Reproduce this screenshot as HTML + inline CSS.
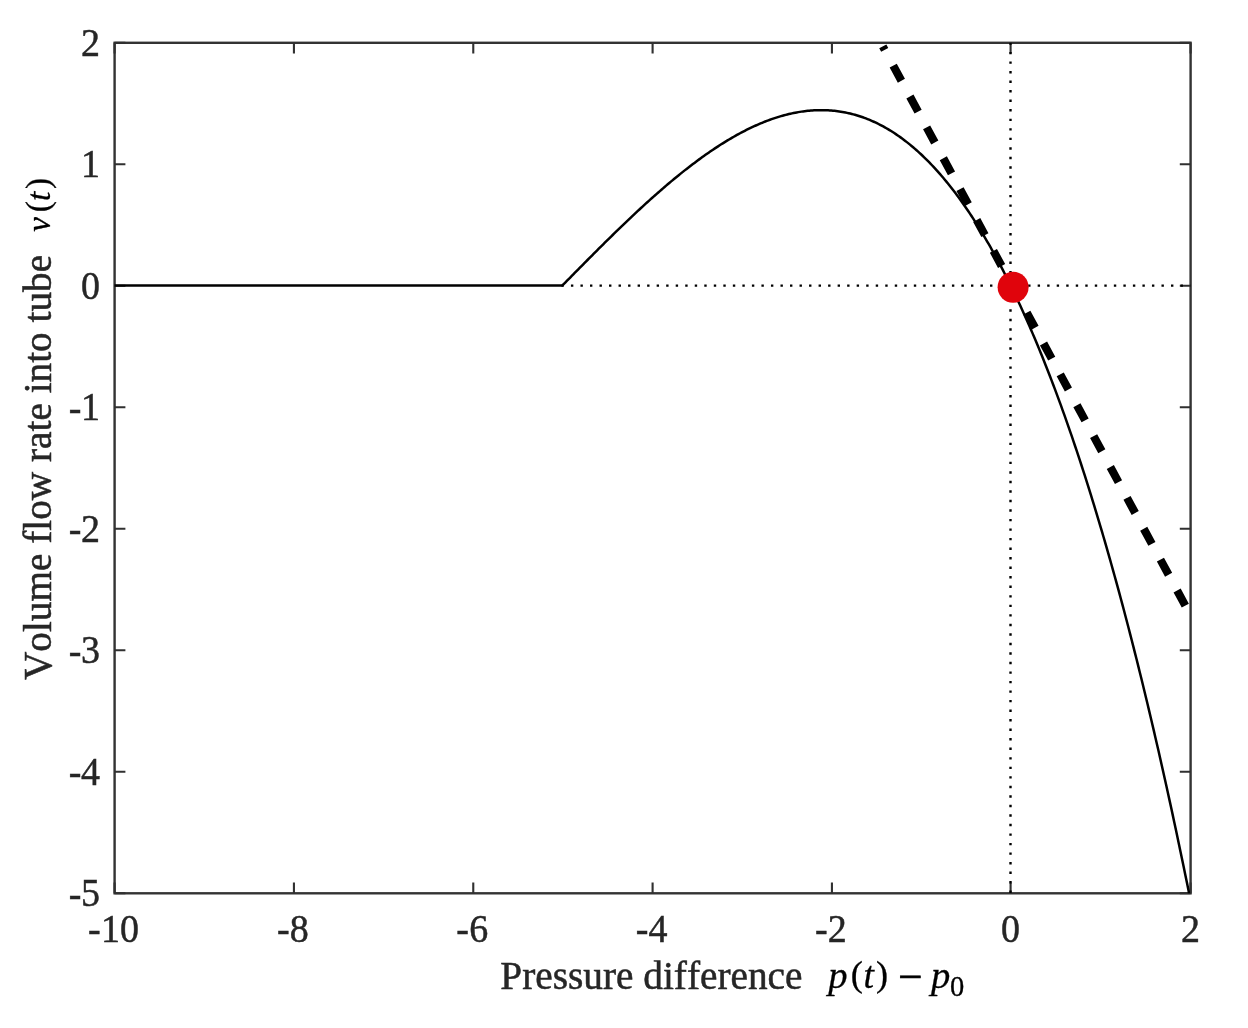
<!DOCTYPE html>
<html lang="en"><head><meta charset="utf-8"><title>Volume flow rate vs pressure difference</title>
<style>html,body{margin:0;padding:0;background:#fff}body{width:1248px;height:1028px;overflow:hidden}svg{display:block}</style></head>
<body>
<svg width="1248" height="1028" viewBox="0 0 1248 1028">
<rect width="1248" height="1028" fill="#fff"/>
<defs><filter id="soft" x="0" y="0" width="100%" height="100%" filterUnits="userSpaceOnUse" color-interpolation-filters="sRGB"><feGaussianBlur stdDeviation="0.4"/></filter><clipPath id="c"><rect x="114.60" y="42.80" width="1076.00" height="850.50"/></clipPath></defs>
<g filter="url(#soft)">
<rect x="114.60" y="42.80" width="1076.00" height="850.50" fill="none" stroke="#333333" stroke-width="2.4"/>
<path d="M114.60 893.30 v-10.80 M114.60 42.80 v10.80 M293.93 893.30 v-10.80 M293.93 42.80 v10.80 M473.27 893.30 v-10.80 M473.27 42.80 v10.80 M652.60 893.30 v-10.80 M652.60 42.80 v10.80 M831.93 893.30 v-10.80 M831.93 42.80 v10.80 M1010.60 893.30 v-10.80 M1010.60 42.80 v10.80 M1190.60 893.30 v-10.80 M1190.60 42.80 v10.80 M114.60 893.30 h10.80 M1190.60 893.30 h-10.80 M114.60 771.80 h10.80 M1190.60 771.80 h-10.80 M114.60 650.30 h10.80 M1190.60 650.30 h-10.80 M114.60 528.80 h10.80 M1190.60 528.80 h-10.80 M114.60 407.30 h10.80 M1190.60 407.30 h-10.80 M114.60 285.80 h10.80 M1190.60 285.80 h-10.80 M114.60 164.30 h10.80 M1190.60 164.30 h-10.80 M114.60 42.80 h10.80 M1190.60 42.80 h-10.80" stroke="#303030" stroke-width="2.1" fill="none"/>
<g clip-path="url(#c)">
<line x1="561.40" y1="285.60" x2="1190.60" y2="285.60" stroke="#000" stroke-width="2.4" stroke-dasharray="2.4 7.125"/>
<line x1="1010.50" y1="42.40" x2="1010.50" y2="893.30" stroke="#000" stroke-width="2.4" stroke-dasharray="2.4 7.13"/>
</g>
<g clip-path="url(#c)"><path d="M114.00 285.50 L562.33 285.50 L563.91 283.90 L565.48 282.30 L567.05 280.70 L568.63 279.11 L570.20 277.51 L571.77 275.91 L573.35 274.32 L574.92 272.72 L576.49 271.13 L578.06 269.53 L579.64 267.94 L581.21 266.35 L582.78 264.76 L584.36 263.17 L585.93 261.59 L587.50 260.00 L589.08 258.42 L590.65 256.84 L592.22 255.26 L593.80 253.68 L595.37 252.11 L596.94 250.54 L598.51 248.97 L600.09 247.40 L601.66 245.84 L603.23 244.28 L604.81 242.72 L606.38 241.17 L607.95 239.62 L609.53 238.07 L611.10 236.53 L612.67 234.99 L614.25 233.45 L615.82 231.92 L617.39 230.39 L618.96 228.87 L620.54 227.35 L622.11 225.83 L623.68 224.32 L625.26 222.81 L626.83 221.31 L628.40 219.81 L629.98 218.32 L631.55 216.83 L633.12 215.35 L634.70 213.88 L636.27 212.41 L637.84 210.94 L639.42 209.48 L640.99 208.03 L642.56 206.58 L644.13 205.14 L645.71 203.70 L647.28 202.27 L648.85 200.85 L650.43 199.43 L652.00 198.02 L653.57 196.62 L655.15 195.22 L656.72 193.83 L658.29 192.45 L659.87 191.07 L661.44 189.70 L663.01 188.34 L664.58 186.99 L666.16 185.65 L667.73 184.31 L669.30 182.98 L670.88 181.66 L672.45 180.34 L674.02 179.04 L675.60 177.74 L677.17 176.45 L678.74 175.17 L680.32 173.90 L681.89 172.64 L683.46 171.39 L685.04 170.14 L686.61 168.91 L688.18 167.68 L689.75 166.47 L691.33 165.26 L692.90 164.06 L694.47 162.88 L696.05 161.70 L697.62 160.53 L699.19 159.38 L700.77 158.23 L702.34 157.09 L703.91 155.97 L705.49 154.85 L707.06 153.75 L708.63 152.65 L710.20 151.57 L711.78 150.50 L713.35 149.44 L714.92 148.39 L716.50 147.35 L718.07 146.33 L719.64 145.31 L721.22 144.31 L722.79 143.32 L724.36 142.34 L725.94 141.38 L727.51 140.42 L729.08 139.48 L730.65 138.55 L732.23 137.64 L733.80 136.73 L735.37 135.84 L736.95 134.96 L738.52 134.10 L740.09 133.25 L741.67 132.41 L743.24 131.59 L744.81 130.77 L746.39 129.98 L747.96 129.19 L749.53 128.42 L751.11 127.67 L752.68 126.93 L754.25 126.20 L755.82 125.49 L757.40 124.79 L758.97 124.11 L760.54 123.44 L762.12 122.78 L763.69 122.14 L765.26 121.52 L766.84 120.91 L768.41 120.32 L769.98 119.74 L771.56 119.18 L773.13 118.63 L774.70 118.10 L776.27 117.59 L777.85 117.09 L779.42 116.61 L780.99 116.14 L782.57 115.69 L784.14 115.26 L785.71 114.84 L787.29 114.44 L788.86 114.06 L790.43 113.69 L792.01 113.35 L793.58 113.01 L795.15 112.70 L796.73 112.40 L798.30 112.12 L799.87 111.86 L801.44 111.62 L803.02 111.39 L804.59 111.19 L806.16 111.00 L807.74 110.83 L809.31 110.67 L810.88 110.54 L812.46 110.43 L814.03 110.33 L815.60 110.25 L817.18 110.19 L818.75 110.15 L820.32 110.13 L821.89 110.13 L823.47 110.15 L825.04 110.19 L826.61 110.25 L828.19 110.32 L829.76 110.42 L831.33 110.54 L832.91 110.68 L834.48 110.84 L836.05 111.02 L837.63 111.21 L839.20 111.43 L840.77 111.68 L842.35 111.94 L843.92 112.22 L845.49 112.52 L847.06 112.85 L848.64 113.19 L850.21 113.56 L851.78 113.95 L853.36 114.36 L854.93 114.80 L856.50 115.25 L858.08 115.73 L859.65 116.23 L861.22 116.75 L862.80 117.29 L864.37 117.86 L865.94 118.45 L867.51 119.06 L869.09 119.70 L870.66 120.36 L872.23 121.04 L873.81 121.74 L875.38 122.47 L876.95 123.22 L878.53 124.00 L880.10 124.79 L881.67 125.62 L883.25 126.46 L884.82 127.33 L886.39 128.23 L887.96 129.15 L889.54 130.09 L891.11 131.06 L892.68 132.05 L894.26 133.07 L895.83 134.11 L897.40 135.18 L898.98 136.27 L900.55 137.39 L902.12 138.54 L903.70 139.70 L905.27 140.90 L906.84 142.12 L908.42 143.37 L909.99 144.64 L911.56 145.94 L913.13 147.26 L914.71 148.61 L916.28 149.99 L917.85 151.39 L919.43 152.82 L921.00 154.28 L922.57 155.76 L924.15 157.28 L925.72 158.81 L927.29 160.38 L928.87 161.97 L930.44 163.59 L932.01 165.24 L933.58 166.92 L935.16 168.62 L936.73 170.35 L938.30 172.11 L939.88 173.90 L941.45 175.72 L943.02 177.56 L944.60 179.44 L946.17 181.34 L947.74 183.27 L949.32 185.23 L950.89 187.22 L952.46 189.24 L954.04 191.29 L955.61 193.36 L957.18 195.47 L958.75 197.61 L960.33 199.77 L961.90 201.97 L963.47 204.19 L965.05 206.45 L966.62 208.73 L968.19 211.05 L969.77 213.40 L971.34 215.78 L972.91 218.18 L974.49 220.62 L976.06 223.09 L977.63 225.59 L979.20 228.13 L980.78 230.69 L982.35 233.28 L983.92 235.91 L985.50 238.57 L987.07 241.26 L988.64 243.98 L990.22 246.73 L991.79 249.52 L993.36 252.34 L994.94 255.19 L996.51 258.07 L998.08 260.99 L999.65 263.94 L1001.23 266.92 L1002.80 269.93 L1004.37 272.98 L1005.95 276.06 L1007.52 279.17 L1009.09 282.32 L1010.67 285.50 L1012.24 288.71 L1013.81 291.96 L1015.39 295.24 L1016.96 298.56 L1018.53 301.91 L1020.11 305.29 L1021.68 308.71 L1023.25 312.17 L1024.82 315.65 L1026.40 319.18 L1027.97 322.73 L1029.54 326.33 L1031.12 329.95 L1032.69 333.62 L1034.26 337.31 L1035.84 341.05 L1037.41 344.82 L1038.98 348.62 L1040.56 352.46 L1042.13 356.34 L1043.70 360.25 L1045.27 364.20 L1046.85 368.18 L1048.42 372.20 L1049.99 376.26 L1051.57 380.35 L1053.14 384.48 L1054.71 388.65 L1056.29 392.86 L1057.86 397.10 L1059.43 401.38 L1061.01 405.69 L1062.58 410.05 L1064.15 414.44 L1065.73 418.87 L1067.30 423.33 L1068.87 427.84 L1070.44 432.38 L1072.02 436.96 L1073.59 441.58 L1075.16 446.24 L1076.74 450.93 L1078.31 455.67 L1079.88 460.44 L1081.46 465.25 L1083.03 470.10 L1084.60 474.99 L1086.18 479.92 L1087.75 484.89 L1089.32 489.90 L1090.89 494.95 L1092.47 500.03 L1094.04 505.16 L1095.61 510.33 L1097.19 515.54 L1098.76 520.78 L1100.33 526.07 L1101.91 531.40 L1103.48 536.77 L1105.05 542.18 L1106.63 547.62 L1108.20 553.12 L1109.77 558.65 L1111.35 564.22 L1112.92 569.83 L1114.49 575.49 L1116.06 581.19 L1117.64 586.92 L1119.21 592.70 L1120.78 598.53 L1122.36 604.39 L1123.93 610.29 L1125.50 616.24 L1127.08 622.23 L1128.65 628.26 L1130.22 634.34 L1131.80 640.46 L1133.37 646.62 L1134.94 652.82 L1136.51 659.07 L1138.09 665.36 L1139.66 671.69 L1141.23 678.07 L1142.81 684.48 L1144.38 690.95 L1145.95 697.45 L1147.53 704.00 L1149.10 710.60 L1150.67 717.24 L1152.25 723.92 L1153.82 730.65 L1155.39 737.42 L1156.96 744.23 L1158.54 751.09 L1160.11 758.00 L1161.68 764.95 L1163.26 771.95 L1164.83 778.99 L1166.40 786.07 L1167.98 793.20 L1169.55 800.38 L1171.12 807.60 L1172.70 814.87 L1174.27 822.18 L1175.84 829.54 L1177.42 836.95 L1178.99 844.40 L1180.56 851.89 L1182.13 859.44 L1183.71 867.03 L1185.28 874.67 L1186.85 882.35 L1188.43 890.08 L1190.00 897.86" fill="none" stroke="#000" stroke-width="2.5" stroke-linejoin="miter"/></g>
<line x1="882.8" y1="46.4" x2="1185.3" y2="605.6" stroke="#000" stroke-width="8.1" stroke-dasharray="17.2 17.9" stroke-dashoffset="13.2"/>
<circle cx="1013.1" cy="287.2" r="15.5" fill="#e0040c"/>
<g font-family="'Liberation Serif', 'Times New Roman', serif" font-size="41.1" letter-spacing="0.2" fill="#262626" stroke="#262626" stroke-width="0.5" style="font-kerning:none;font-variant-ligatures:none">
<text transform="translate(113.70 941.7) scale(0.925 1)" text-anchor="middle">-10</text>
<text transform="translate(293.03 941.7) scale(0.925 1)" text-anchor="middle">-8</text>
<text transform="translate(472.37 941.7) scale(0.925 1)" text-anchor="middle">-6</text>
<text transform="translate(651.70 941.7) scale(0.925 1)" text-anchor="middle">-4</text>
<text transform="translate(831.03 941.7) scale(0.925 1)" text-anchor="middle">-2</text>
<text transform="translate(1010.60 941.7) scale(0.925 1)" text-anchor="middle">0</text>
<text transform="translate(1190.60 941.7) scale(0.925 1)" text-anchor="middle">2</text>
<text transform="translate(100.3 906.00) scale(0.925 1)" text-anchor="end"><tspan dy="0.8">-</tspan><tspan dy="-0.8" dx="-0.6">5</tspan></text>
<text transform="translate(100.3 784.50) scale(0.925 1)" text-anchor="end"><tspan dy="0.8">-</tspan><tspan dy="-0.8" dx="-0.6">4</tspan></text>
<text transform="translate(100.3 663.00) scale(0.925 1)" text-anchor="end"><tspan dy="0.8">-</tspan><tspan dy="-0.8" dx="-0.6">3</tspan></text>
<text transform="translate(100.3 541.50) scale(0.925 1)" text-anchor="end"><tspan dy="0.8">-</tspan><tspan dy="-0.8" dx="-0.6">2</tspan></text>
<text transform="translate(100.3 420.00) scale(0.925 1)" text-anchor="end"><tspan dy="0.8">-</tspan><tspan dy="-0.8" dx="-0.6">1</tspan></text>
<text transform="translate(100.3 298.50) scale(0.925 1)" text-anchor="end">0</text>
<text transform="translate(100.3 177.00) scale(0.925 1)" text-anchor="end">1</text>
<text transform="translate(100.3 55.50) scale(0.925 1)" text-anchor="end">2</text>
<text x="500.3" y="989.4" font-size="39.3" letter-spacing="0">Pressure difference</text>
<text transform="translate(50.7 680.0) rotate(-90)" font-size="39.25" letter-spacing="0">Volume flow rate into tube</text>
</g>
<g font-family="'Liberation Serif', 'Times New Roman', serif" font-size="37.5" fill="#000" stroke="#000" stroke-width="0.3" style="font-kerning:none;font-variant-ligatures:none">
<text><tspan x="828.2" y="988.0" font-size="38.6" font-style="italic">p</tspan><tspan x="850.8" y="986.2" font-size="36.3">(</tspan><tspan x="863.4" y="988.0" font-style="italic">t</tspan><tspan x="876.0" y="986.2" font-size="36.3">)</tspan><tspan> </tspan><tspan x="898.2" y="990.6" font-size="43" stroke-width="0.7">−</tspan><tspan> </tspan><tspan x="931.0" y="988.0" font-size="38.6" font-style="italic">p</tspan><tspan x="950.1" y="996.2" font-size="28.5">0</tspan></text>
<text transform="translate(50.2 229.5) rotate(-90)" font-size="34.5"><tspan x="-2.2" y="0" font-size="33" font-style="italic">v</tspan><tspan x="17.2" y="-1.2" font-size="33.3">(</tspan><tspan x="28.4" y="-0.3" font-size="33.5" font-style="italic">t</tspan><tspan x="40.6" y="-1.2" font-size="33.3">)</tspan></text>
</g>
</g>
</svg>
</body></html>
